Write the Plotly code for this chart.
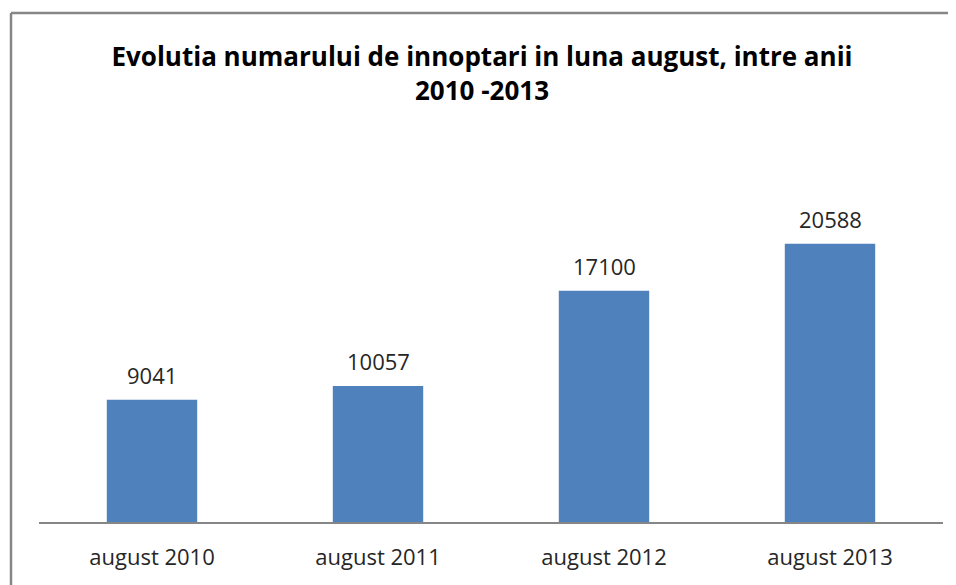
import plotly.graph_objects as go

categories = ["august 2010", "august 2011", "august 2012", "august 2013"]
values = [9041, 10057, 17100, 20588]
title_text = "Evolutia numarului de innoptari in luna august, intre anii<br>2010 -2013"

# The page body has an 8px margin, so figure pixel = page pixel - 8
OFF = 8
W, H = 956 - OFF, 585 - OFF
ml = 39 - OFF
mr = W - (943 - OFF)
mt = 184 - OFF
mb = H - (522 - OFF)
pw, ph = W - ml - mr, H - mt - mb

def px_to_paper_x(px):
    return (px - OFF - ml) / pw

def px_to_paper_y(py):
    return (H - mb - (py - OFF)) / ph

fig = go.Figure(go.Bar(
    x=categories, y=values,
    marker=dict(color="#4F81BD", line=dict(width=0)),
    width=0.4,
    hoverinfo="x+y",
))

for c, v in zip(categories, values):
    fig.add_annotation(x=c, y=v, text=str(v), showarrow=False,
                       yanchor="bottom", yshift=8,
                       font=dict(size=22, color="#262626", family="Open Sans"))

fig.update_layout(
    width=W, height=H,
    margin=dict(l=ml, r=mr, t=mt, b=mb),
    paper_bgcolor="white", plot_bgcolor="white",
    showlegend=False,
    title=dict(text="<b>" + title_text + "</b>", x=0.5, xref="container",
               xanchor="center",
               y=1 - (66 - OFF) / H, yanchor="middle",
               font=dict(size=26, color="#000000", family="Open Sans")),
    xaxis=dict(showgrid=False, showline=True, linecolor="#868686", linewidth=1.5,
               ticks="", tickfont=dict(size=22, color="#262626", family="Open Sans"),
               ticklabelstandoff=15),
    yaxis=dict(range=[0, 25000], visible=False, showgrid=False),
    shapes=[
        dict(type="line", xref="paper", yref="paper",
             x0=px_to_paper_x(11), x1=px_to_paper_x(980),
             y0=px_to_paper_y(13), y1=px_to_paper_y(13),
             line=dict(color="#868686", width=2.5)),
        dict(type="line", xref="paper", yref="paper",
             x0=px_to_paper_x(11), x1=px_to_paper_x(11),
             y0=px_to_paper_y(13), y1=px_to_paper_y(610),
             line=dict(color="#868686", width=2.5)),
    ],
)

fig.write_html("out.html", config={"displayModeBar": False},
               post_script="document.body.style.overflow='hidden';"
                           "document.documentElement.style.overflow='hidden';")
